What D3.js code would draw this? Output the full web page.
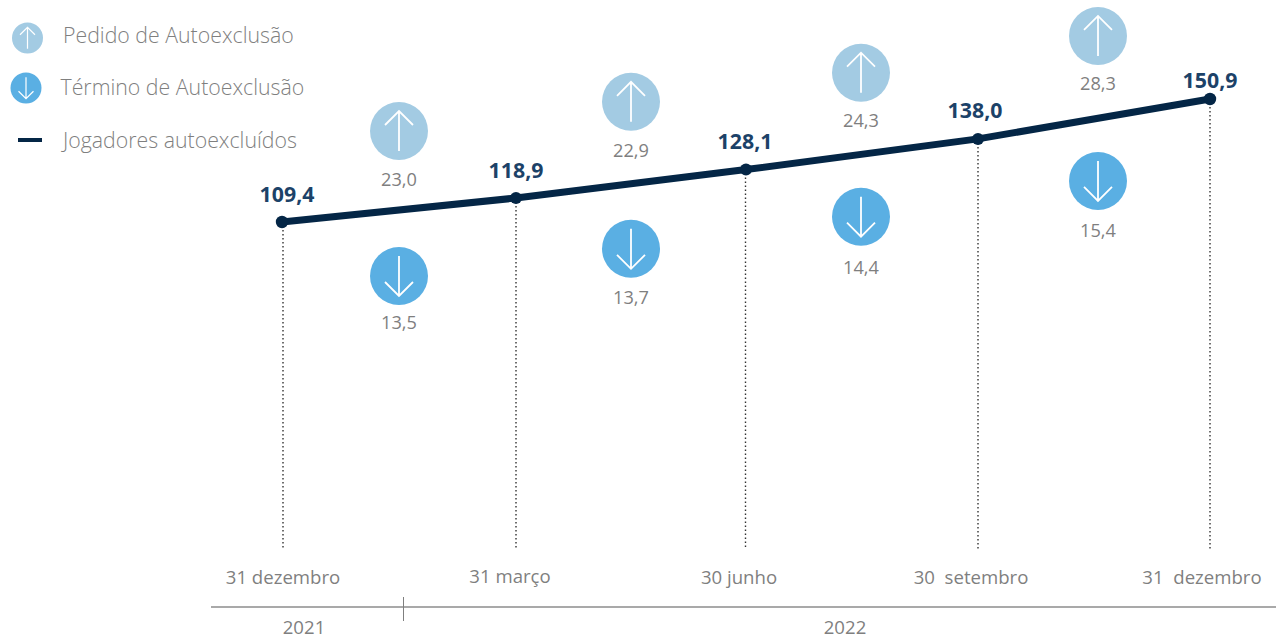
<!DOCTYPE html>
<html><head><meta charset="utf-8">
<script src="https://cdn.jsdelivr.net/npm/d3@7/dist/d3.min.js"></script>
<style>html,body{margin:0;padding:0;background:#fff}svg{display:block}text{font-family:"Open Sans",sans-serif;white-space:pre}</style>
</head><body><svg id="c" width="1276" height="636"></svg>
<script>
const dates = ["31 dezembro","31 março","30 junho","30  setembro","31  dezembro"];
const players = [109.4,118.9,128.1,138.0,150.9];
const requests = [23.0,22.9,24.3,28.3];
const endings = [13.5,13.7,14.4,15.4];
const years = ["2021","2022"];
const legendLabels = ["Pedido de Autoexclusão","Término de Autoexclusão","Jogadores autoexcluídos"];
const fmt = v => v.toFixed(1).replace(".",",");

const NAVY="#042646", LABEL="#1c4268", GREY="#7f7f7f", UP="#a3cbe3", DOWN="#5aafe3";
const svg=d3.select("#c");
const x=d3.scaleLinear().domain([0,1,2,4]).range([282,516,746,1210]);
const y=d3.scaleLinear().domain([109.4,118.9,150.9]).range([222,198,99]);
const idx=d3.range(dates.length);

// drop lines
svg.append("g").selectAll("line").data(idx).join("line")
  .attr("x1",i=>x(i)+(i==0?1:i==2?-0.5:0)).attr("x2",i=>x(i)+(i==0?1:i==2?-0.5:0))
  .attr("y1",i=>y(players[i])).attr("y2",549)
  .attr("stroke","#333").attr("stroke-width",1.4).attr("stroke-dasharray","1.5 2.5");

// main line
svg.append("path").attr("fill","none").attr("stroke",NAVY).attr("stroke-width",7)
  .attr("d",d3.line().x((d,i)=>x(i)).y(d=>y(d))(players));
svg.append("g").selectAll("circle").data(players).join("circle")
  .attr("cx",(d,i)=>x(i)).attr("cy",d=>y(d)).attr("r",(d,i)=>(i==0||i==4)?6.2:6).attr("fill",NAVY);

// value labels
const labelDx=[5,0,-1,-3,0], labelDy=[-28,-28,-28,-29,-19];
svg.append("g").selectAll("text").data(players).join("text")
  .attr("x",(d,i)=>x(i)+labelDx[i]).attr("y",(d,i)=>y(d)+labelDy[i]).attr("dy","0.36em")
  .attr("text-anchor","middle").attr("font-size",21.3).attr("font-weight",700).attr("fill",LABEL)
  .text(fmt);

function badge(g,cx,cy,r,dir,fill){
  const s=r/29;
  const a=g.append("g").attr("transform",`translate(${cx},${cy})`);
  a.append("circle").attr("r",r).attr("fill",fill);
  const tip=-20*dir*s, tail=20*dir*s, wing=-6*dir*s, w=14*s;
  a.append("path").attr("fill","none").attr("stroke","#fff").attr("stroke-width",Math.max(1.2,1.8*s))
    .attr("d",`M0 ${tail}L0 ${tip}M${-w} ${wing}L0 ${tip}L${w} ${wing}`);
}
const gapX=[0,0,-1,4];
const mid=i=>(y(players[i])+y(players[i+1]))/2;
const upShift=[-79,-82,-81.5,-83], downShift=[66,65,62.5,62];
const upText=[48.5,48.5,47.5,47.5], downText=[46.5,48.5,50.5,49.5];
const bx=i=>(x(i)+x(i+1))/2+gapX[i];
const bg=svg.append("g");
requests.forEach((v,i)=>{
  const cy=mid(i)+upShift[i];
  badge(bg,bx(i),cy,29,1,UP);
  bg.append("text").attr("x",bx(i)).attr("y",cy+upText[i]).attr("dy","0.36em").attr("text-anchor","middle")
    .attr("font-size",18.2).attr("fill",GREY).text(fmt(v));
});
endings.forEach((v,i)=>{
  const cy=mid(i)+downShift[i];
  badge(bg,bx(i),cy,29,-1,DOWN);
  bg.append("text").attr("x",bx(i)).attr("y",cy+downText[i]).attr("dy","0.36em").attr("text-anchor","middle")
    .attr("font-size",18.2).attr("fill",GREY).text(fmt(v));
});

// date labels
const tickDx=[1,-6,-7,-7,-8];
svg.append("g").selectAll("text").data(dates).join("text")
  .attr("x",(d,i)=>x(i)+tickDx[i]).attr("y",(d,i)=>i==1?576.5:577.5).attr("dy","0.36em")
  .attr("text-anchor","middle").attr("font-size",18.6).attr("fill",GREY).text(d=>d);

// year axis
svg.append("line").attr("x1",211).attr("x2",1276).attr("y1",607).attr("y2",607).attr("stroke","#8c8c8c").attr("stroke-width",1.5);
svg.append("line").attr("x1",403.5).attr("x2",403.5).attr("y1",597).attr("y2",621).attr("stroke","#7f7f7f").attr("stroke-width",1);
const yearX=[304,845];
svg.append("g").selectAll("text").data(years).join("text")
  .attr("x",(d,i)=>yearX[i]).attr("y",627).attr("dy","0.36em").attr("text-anchor","middle")
  .attr("font-size",18.6).attr("fill",GREY).text(d=>d);

// legend
const lg=svg.append("g");
badge(lg,27.5,38,15.5,1,UP);
badge(lg,26,88,15.5,-1,DOWN);
lg.append("line").attr("x1",18).attr("x2",42).attr("y1",140).attr("y2",140).attr("stroke",NAVY).attr("stroke-width",4);
const legX=[63,60.5,63], legY=[35,87,140];
lg.selectAll("text").data(legendLabels).join("text")
  .attr("x",(d,i)=>legX[i]).attr("y",(d,i)=>legY[i]).attr("dy","0.36em")
  .attr("font-size",21.3).attr("font-weight",300).attr("fill",GREY).text(d=>d);
</script></body></html>
